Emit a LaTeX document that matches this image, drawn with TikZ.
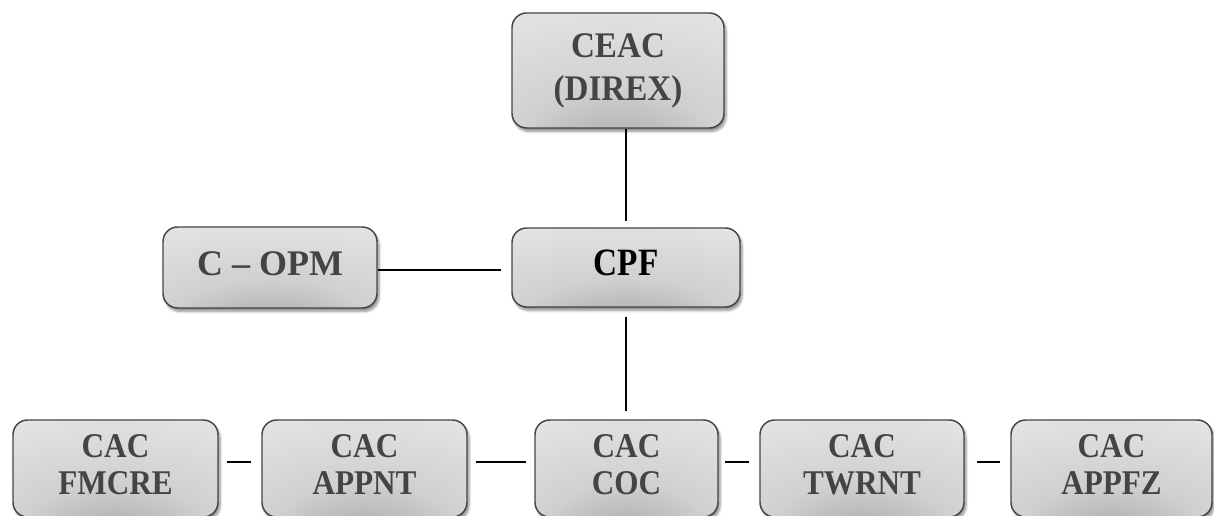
\documentclass[tikz,border=0pt]{standalone}
\usepackage{fontspec}
\usepackage{graphicx}
\setmainfont{Liberation Serif}
\usetikzlibrary{shadows.blur}

\definecolor{txtgray}{HTML}{444444}
\definecolor{edgegray}{HTML}{454545}
\definecolor{shdark}{HTML}{A6A6A6}
\definecolor{shmid}{HTML}{D0D0D0}
\definecolor{shlight}{HTML}{E4E4E4}
\definecolor{shpale}{HTML}{F0F0F0}

% soft grey fill, darkest just above the bottom edge
\pgfdeclareradialshading{boxshade}{\pgfpoint{0bp}{-38bp}}{%
  color(0bp)=(shdark); color(22bp)=(shmid); color(50bp)=(shlight); color(100bp)=(shpale)}

% slightly narrowed, centred block of lines
\newcommand{\narrowlines}[2][0.91]{\scalebox{#1}[1]{\begin{tabular}{@{}c@{}}#2\end{tabular}}}

\tikzset{
  unit/.style={draw=edgegray, line width=1.1pt, rounded corners=11pt,
    shading=boxshade, align=center, inner sep=0pt, text=txtgray,
    font=\fontsize{27}{32}\selectfont\bfseries,
    blur shadow={shadow xshift=1.5pt, shadow yshift=-2.5pt, shadow blur steps=6, shadow opacity=45}},
  lowunit/.style={unit, minimum height=97*0.75pt,
    font=\fontsize{26}{28}\selectfont\bfseries},
  link/.style={line width=1.3pt, black}
}

\begin{document}
\begin{tikzpicture}[x=0.75pt, y=-0.75pt]
\useasboundingbox (0,0) rectangle (1214,516);

% top of the hierarchy
\node[unit, minimum width=212*0.75pt, minimum height=115*0.75pt] (ceac) at (618,70.5)
  {\narrowlines[0.92]{CEAC\\(DIREX)}};
\node[unit, minimum width=228*0.75pt, minimum height=79*0.75pt, text=black,
      font=\fontsize{29}{30}\selectfont\bfseries] (cpf) at (626,267.5)
  {\narrowlines[0.86]{CPF}};
\node[unit, minimum width=214*0.75pt, minimum height=81*0.75pt,
      font=\fontsize{27}{30}\selectfont\bfseries] (copm) at (270,267.5)
  {\raisebox{6pt}{C -- OPM}};

% committees row
\node[lowunit, minimum width=205*0.75pt] (fmcre) at (115.5,468.5) {\narrowlines[0.9]{CAC\\FMCRE}};
\node[lowunit, minimum width=205*0.75pt] (appnt) at (364.5,468.5) {\narrowlines[0.9]{CAC\\APPNT}};
\node[lowunit, minimum width=183*0.75pt] (coc) at (626.5,468.5) {\narrowlines[0.9]{CAC\\COC}};
\node[lowunit, minimum width=204*0.75pt] (twrnt) at (862,468.5) {\narrowlines[0.9]{CAC\\TWRNT}};
\node[lowunit, minimum width=201*0.75pt] (appfz) at (1111.5,468.5) {\narrowlines[0.9]{CAC\\APPFZ}};

% connectors
\draw[link, shorten >=4.5pt] (ceac.south -| cpf.north) -- (cpf.north);
\draw[link, shorten <=7pt, shorten >=6pt] (cpf.south) -- (coc.north -| cpf.south);
\draw[link, shorten >=7.5pt] ([yshift=-1.8pt]copm.east) -- ([yshift=-1.8pt]cpf.west);
\draw[link, shorten <=6.5pt, shorten >=7.5pt] ([yshift=4.9pt]fmcre.east) -- ([yshift=4.9pt]appnt.west);
\draw[link, shorten <=6pt, shorten >=6pt] ([yshift=4.9pt]appnt.east) -- ([yshift=4.9pt]coc.west);
\draw[link, shorten <=4.5pt, shorten >=7.5pt] ([yshift=4.9pt]coc.east) -- ([yshift=4.9pt]twrnt.west);
\draw[link, shorten <=9pt, shorten >=8pt] ([yshift=4.9pt]twrnt.east) -- ([yshift=4.9pt]appfz.west);
\end{tikzpicture}
\end{document}
